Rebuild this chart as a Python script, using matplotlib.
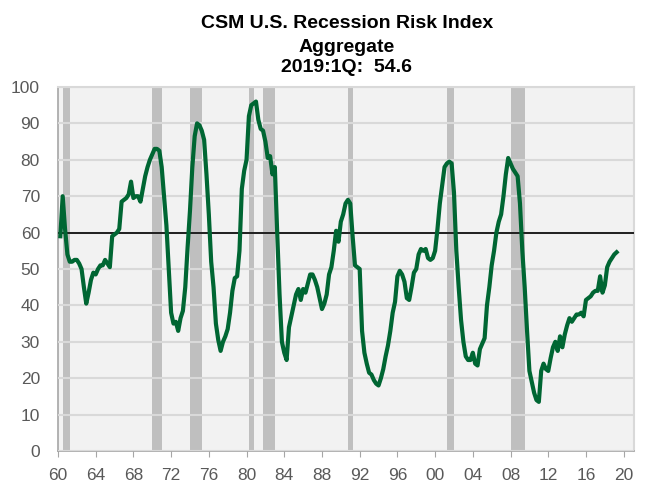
import matplotlib.pyplot as plt
from matplotlib import font_manager

# CSM U.S. Recession Risk Index, quarterly, 1960Q1 .. 2019Q1
start_year = 1960
risk_index = [
    59, 70, 61, 54,            # 1960
    52, 52, 52.5, 52.5,        # 1961
    51.5, 50, 45, 40.5,        # 1962
    43.5, 47, 49, 48.5,        # 1963
    50, 51, 51, 52.5,          # 1964
    51.5, 50.5, 59, 59.5,      # 1965
    60, 61, 68.5, 69,          # 1966
    69.5, 70.5, 74, 69.5,      # 1967
    70, 70, 68.5, 72,          # 1968
    75.5, 78, 80, 81.5,        # 1969
    83, 83, 82.5, 78,          # 1970
    70, 62, 50, 38,            # 1971
    35, 35.5, 33, 36.5,        # 1972
    38.5, 45, 56, 66,          # 1973
    78, 86.5, 90, 89.5,        # 1974
    88, 85.5, 76, 65,          # 1975
    52, 45, 35, 30.5,          # 1976
    27.5, 30, 31.5, 33.5,      # 1977
    38, 44, 47.5, 48,          # 1978
    55, 72, 77, 80,            # 1979
    92, 95, 95.5, 96,          # 1980
    91, 88.5, 88, 85,          # 1981
    80.5, 81, 76, 78,          # 1982
    60, 43, 30, 27,            # 1983
    25, 34, 37, 40,            # 1984
    43, 44.5, 41.5, 44.5,      # 1985
    43.5, 46, 48.5, 48.5,      # 1986
    47, 45, 42, 39,            # 1987
    40.5, 43, 48.5, 50.5,      # 1988
    55, 60.5, 57.5, 63,        # 1989
    65, 68, 69, 68,            # 1990
    59, 51, 50.5, 50,          # 1991
    33, 27, 24, 21.5,          # 1992
    21, 19.5, 18.5, 18,        # 1993
    20, 22.5, 26, 29,          # 1994
    33, 38, 41, 48,            # 1995
    49.5, 48.5, 46.5, 42,      # 1996
    41.5, 45, 49, 50,          # 1997
    54, 55.5, 55, 55.5,        # 1998
    53, 52.5, 53, 55,          # 1999
    61, 68, 73, 78,            # 2000
    79, 79.5, 79, 71,          # 2001
    55, 45, 36, 30,            # 2002
    26, 25, 25, 27,            # 2003
    24, 23.5, 28, 29.5,        # 2004
    31, 40, 45, 51,            # 2005
    55, 60, 63, 65,            # 2006
    70, 76, 80.5, 79,          # 2007
    77.5, 76.5, 75.5, 68,      # 2008
    55, 45, 33, 22,            # 2009
    19, 16, 14, 13.5,          # 2010
    22, 24, 22.5, 22,          # 2011
    25.5, 28.5, 30, 27.5,      # 2012
    31.5, 28.5, 32, 34.5,      # 2013
    36.5, 35.5, 36.5, 37.5,    # 2014
    37.5, 38, 37, 41.5,        # 2015
    42, 42.5, 43.5, 44,        # 2016
    44, 48, 43.5, 45.5,        # 2017
    50.5, 52, 53, 54,          # 2018
    54.6,                      # 2019
]
# quarters plotted at quarter end, as in the original
dates = [start_year + (i + 1) / 4 for i in range(len(risk_index))]

# recession shading (start, end) in decimal years
recession_start = [1960.5, 1970.0, 1974.0, 1980.25, 1981.75, 1990.75, 2001.25, 2008.0]
recession_end = [1961.25, 1971.0, 1975.25, 1980.75, 1983.0, 1991.25, 2002.0, 2009.5]

threshold = 60
x_ticks = list(range(1960, 2021, 4))
x_labels = [f"{y % 100:02d}" for y in x_ticks]
title_lines = ["CSM U.S. Recession Risk Index", "Aggregate", "2019:1Q:  54.6"]

names = {f.name for f in font_manager.fontManager.ttflist}
tick_font = "Liberation Sans Narrow" if "Liberation Sans Narrow" in names else "Liberation Sans"

fig = plt.figure(figsize=(6.47, 4.82), dpi=100)
ax = fig.add_axes([0.0896, 0.0643, 0.8904, 0.7552])
ax.set_facecolor("#f2f2f2")

for s, e in zip(recession_start, recession_end):
    ax.axvspan(s, e, color="#bfbfbf", lw=0, zorder=1)

ax.plot(dates, risk_index, color="#006633", lw=3.0, zorder=4, solid_joinstyle="round")
ax.axhline(threshold, color="black", lw=1.2, zorder=3)

ax.set_xlim(1960, 2021.1)
ax.set_ylim(0, 100)
ax.set_yticks(range(0, 101, 10))
ax.set_xticks(x_ticks)
ax.set_xticklabels(x_labels)
ax.yaxis.grid(True, color="#d9d9d9", lw=1.5)
ax.set_axisbelow(False)
for gl in ax.get_ygridlines():
    gl.set_zorder(2)

for side in ["top", "right"]:
    ax.spines[side].set_color("#d9d9d9")
    ax.spines[side].set_linewidth(1.5)
ax.spines["left"].set_color("#a6a6a6")
ax.spines["bottom"].set_color("#a6a6a6")
ax.spines["left"].set_linewidth(1.2)
ax.spines["bottom"].set_linewidth(1.2)

ax.tick_params(axis="y", length=0, pad=13, labelsize=12.5, labelcolor="#595959")
ax.tick_params(axis="x", length=4, color="#a6a6a6", pad=8, labelsize=12.5, labelcolor="#595959")
for lab in ax.get_xticklabels() + ax.get_yticklabels():
    lab.set_fontfamily(tick_font)

for line, yb in zip(title_lines, [0.941, 0.893, 0.851]):
    fig.text(0.536, yb, line, ha="center", va="baseline",
             fontsize=14, fontweight="bold", family="Liberation Sans")

plt.savefig("out.png", dpi=100)
plt.close()
